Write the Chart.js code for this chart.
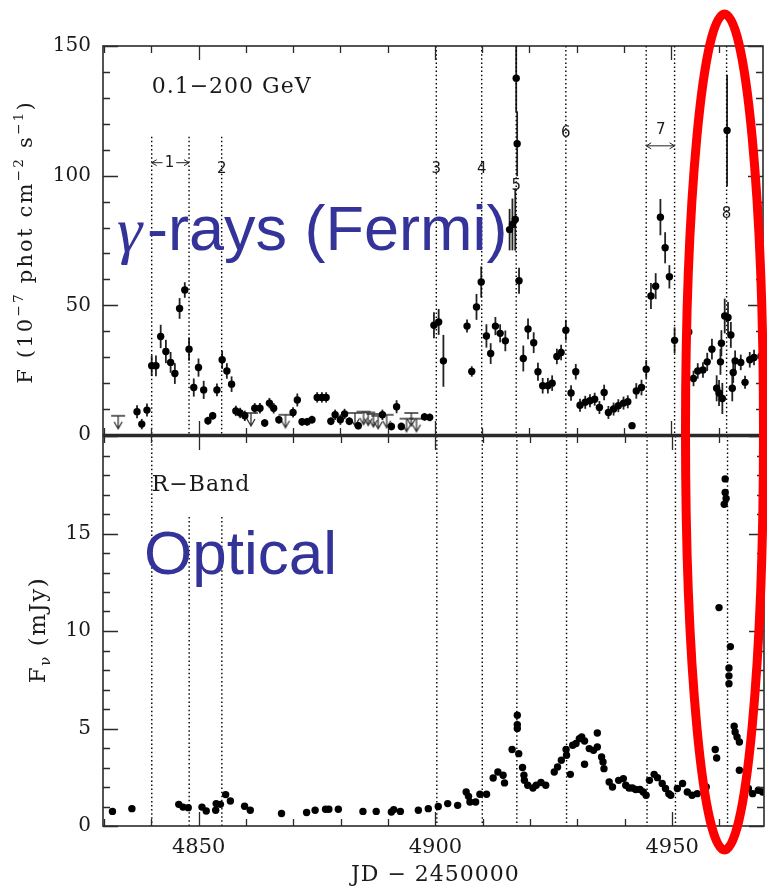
<!DOCTYPE html>
<html>
<head>
<meta charset="utf-8">
<script src="https://cdn.jsdelivr.net/npm/chart.js@4.4.0/dist/chart.umd.min.js"></script>
<style>
  html, body { margin: 0; padding: 0; background: #fff; overflow: hidden; }
  #wrap { position: relative; width: 767px; height: 886px; overflow: hidden; }
  canvas { position: absolute; left: 0; }
  #gamma { top: 0; }
  #optical { top: 430px; }
  #marks { top: 0; pointer-events: none; }
</style>
</head>
<body>
<div id="wrap">
  <canvas id="gamma" width="768" height="440"></canvas>
  <canvas id="optical" width="768" height="456"></canvas>
  <canvas id="marks" width="767" height="886"></canvas>
</div>
<script>
// ---- data (JD - 2450000) ----
const xTickLabels = [4850, 4900, 4950];
const gammaTicks = [0, 50, 100, 150];
const opticalTicks = [0, 5, 10, 15];

// boundaries of the flaring periods (dotted lines)
const eventDays = [4840.1, 4848.0, 4854.9, 4900.3, 4909.9, 4917.2, 4927.7, 4944.7, 4950.7, 4961.7];

// Fermi 0.1-200 GeV flux, 1e-7 phot cm-2 s-1
const gammaDays = [
  4837.0, 4838.0, 4839.1, 4840.1, 4841.0, 4842.0, 4843.1, 4844.1, 4845.0, 4846.0,
  4847.1, 4848.0, 4849.0, 4850.0, 4851.1, 4852.0, 4853.0, 4853.9, 4855.0, 4856.0,
  4857.0, 4857.9, 4858.8, 4859.8, 4861.9, 4863.0, 4864.0, 4865.0, 4865.9, 4867.0,
  4870.0, 4870.9, 4871.9, 4873.0, 4874.0, 4875.1, 4876.1, 4877.0, 4878.0, 4878.9,
  4880.0, 4880.9, 4881.9, 4883.8, 4888.9, 4890.8, 4891.9, 4892.9, 4897.8, 4898.9,
  4899.8, 4900.8, 4901.8, 4906.8, 4907.8, 4908.8, 4909.8, 4910.9, 4911.8, 4912.8,
  4913.8, 4914.9, 4915.8, 4916.4, 4917.0, 4917.2, 4917.4, 4917.8, 4918.7, 4919.7,
  4920.9, 4921.8, 4922.8, 4923.9, 4924.8, 4925.8, 4926.7, 4927.7, 4928.8, 4929.8,
  4930.7, 4931.8, 4932.8, 4933.8, 4934.8, 4935.8, 4936.7, 4937.8, 4938.8, 4939.9,
  4940.8, 4941.7, 4942.6, 4943.7, 4944.7, 4945.7, 4946.7, 4947.7, 4948.7, 4949.6,
  4950.7, 4953.7, 4954.7, 4955.6, 4956.7, 4957.6, 4958.6, 4959.6, 4960.1, 4960.4,
  4960.6, 4960.8, 4961.3, 4961.8, 4962.0, 4962.6, 4962.9, 4963.1, 4963.5, 4964.7,
  4965.6, 4966.6, 4967.5, 4969.0
];
const gammaFlux = [
  9.0, 4.2, 9.6, 26.7, 26.7, 38.0, 32.2, 28.0, 23.7, 48.8,
  55.9, 33.1, 18.3, 26.0, 17.4, 5.5, 7.4, 17.4, 29.0, 24.7,
  19.6, 9.3, 8.5, 7.4, 10.3, 10.3, 4.6, 12.3, 10.3, 5.9,
  8.7, 13.5, 5.1, 5.1, 5.9, 14.5, 14.5, 14.5, 5.3, 7.8,
  5.9, 8.1, 5.3, 3.6, 7.8, 3.3, 10.9, 3.3, 7.0, 6.8,
  42.3, 43.6, 28.6, 42.0, 24.5, 49.4, 59.0, 38.2, 31.4, 42.0,
  39.2, 36.3, 79.2, 81.2, 83.1, 137.6, 112.3, 59.5, 29.5, 40.9,
  35.6, 24.4, 19.0, 19.0, 20.0, 30.3, 31.8, 40.4, 16.2, 24.4,
  11.5, 12.6, 13.2, 13.8, 10.6, 16.4, 8.7, 10.0, 11.3, 12.3,
  12.8, 3.6, 17.0, 18.3, 25.4, 53.6, 57.4, 84.0, 72.2, 61.0,
  36.5, 39.7, 21.8, 24.7, 25.1, 28.2, 33.1, 18.0, 16.2, 28.2,
  35.4, 14.1, 45.9, 117.4, 45.3, 38.6, 18.0, 24.1, 28.6, 28.0,
  20.3, 29.0, 29.9, 30.5
];
const gammaErr = [
  2.5, 2.0, 2.5, 4.0, 4.0, 4.5, 4.5, 4.0, 4.0, 4.0,
  3.0, 4.5, 3.5, 3.5, 3.5, 1.5, 1.5, 2.5, 3.5, 3.0,
  3.0, 2.0, 2.0, 2.0, 2.0, 2.0, 1.5, 2.0, 2.0, 1.5,
  2.0, 2.5, 1.5, 1.5, 1.5, 2.0, 2.0, 2.0, 1.5, 2.0,
  2.0, 2.0, 1.5, 1.5, 2.0, 1.5, 2.5, 1.5, 1.5, 1.5,
  5.0, 5.0, 10.0, 2.5, 2.0, 5.0, 6.0, 4.5, 4.0, 3.5,
  3.5, 4.0, 8.0, 10.0, 12.0, 13.0, 12.5, 5.0, 5.0, 4.0,
  4.0, 3.5, 3.0, 3.0, 3.0, 3.0, 3.0, 4.0, 3.0, 3.0,
  2.5, 2.5, 2.5, 2.5, 2.5, 3.0, 2.5, 2.5, 2.5, 2.5,
  2.5, 1.0, 3.0, 3.0, 3.5, 5.0, 5.0, 7.0, 6.0, 4.5,
  5.0, 6.0, 3.0, 3.0, 3.0, 3.5, 4.0, 5.0, 5.0, 5.0,
  5.0, 6.0, 6.7, 21.5, 6.0, 5.0, 5.0, 4.0, 4.0, 3.0,
  2.5, 3.0, 3.0, 3.0
];

// gamma-ray upper limits
const ulDays = [4833.0, 4861.1, 4868.4, 4883.1, 4884.9, 4885.9, 4887.0, 4888.0, 4889.8, 4894.0, 4895.0, 4896.1];
const ulFlux = [7.4, 8.5, 7.8, 8.5, 9.0, 8.7, 8.1, 7.4, 7.8, 6.3, 8.5, 6.3];

// R-band flux density, mJy
const optDays = [
  4831.8, 4835.9, 4845.8, 4846.7, 4847.8, 4850.7, 4851.6, 4853.6, 4853.7, 4854.6,
  4855.7, 4856.7, 4859.7, 4860.9, 4867.5, 4872.8, 4874.6, 4876.8, 4877.5, 4879.5,
  4884.7, 4887.5, 4890.7, 4891.2, 4892.6, 4896.4, 4898.5, 4900.6, 4902.6, 4904.7,
  4906.5, 4907.0, 4907.3, 4908.5, 4909.4, 4910.8, 4912.2, 4913.2, 4914.3, 4914.6,
  4916.2, 4917.3, 4917.3, 4917.3, 4917.6, 4918.4, 4918.7, 4918.8, 4919.5, 4920.6,
  4921.3, 4922.3, 4923.3, 4925.1, 4925.8, 4926.6, 4927.6, 4927.7, 4928.5, 4929.0,
  4929.7, 4930.4, 4930.9, 4931.5, 4931.5, 4932.5, 4933.4, 4934.2, 4934.2, 4935.1,
  4935.4, 4935.6, 4936.7, 4937.4, 4938.7, 4939.7, 4940.2, 4940.9, 4941.6, 4942.3,
  4943.2, 4943.9, 4944.5, 4945.2, 4946.2, 4946.9, 4947.9, 4948.6, 4949.3, 4949.7,
  4951.1, 4952.2, 4953.2, 4954.2, 4955.3, 4957.2, 4959.1, 4959.4, 4959.9, 4961.0,
  4961.2, 4961.2, 4961.4, 4962.0, 4962.0, 4962.0, 4962.3, 4963.1, 4963.3, 4963.7,
  4964.2, 4964.2, 4966.1, 4967.0, 4968.2, 4969.1
];
const optFlux = [
  0.75, 0.89, 1.11, 0.97, 0.94, 0.97, 0.77, 0.81, 1.15, 1.11,
  1.61, 1.28, 1.01, 0.81, 0.64, 0.69, 0.81, 0.86, 0.86, 0.86,
  0.75, 0.75, 0.72, 0.84, 0.75, 0.81, 0.89, 1.00, 1.15, 1.06,
  1.74, 1.52, 1.23, 1.23, 1.63, 1.63, 2.46, 2.77, 2.60, 2.21,
  3.92, 5.68, 5.20, 5.00, 3.71, 3.00, 2.60, 2.34, 2.09, 1.95,
  2.09, 2.23, 2.09, 2.77, 3.03, 3.37, 3.92, 3.63, 2.65, 4.14,
  4.23, 4.48, 4.57, 4.36, 3.17, 3.97, 3.88, 4.05, 4.77, 3.54,
  3.28, 2.94, 2.26, 2.00, 2.34, 2.43, 2.09, 1.95, 1.95, 1.87,
  1.87, 1.74, 1.58, 2.34, 2.65, 2.48, 2.18, 1.92, 1.66, 1.58,
  1.92, 2.18, 1.74, 1.58, 1.66, 2.00, 3.92, 3.49, 11.2, 16.5,
  17.8, 17.1, 16.8, 8.1, 7.7, 7.3, 9.2, 5.12, 4.82, 4.57,
  4.31, 2.86, 1.92, 1.66, 1.83, 1.74
];

const xMin = 4829.8, xMax = 4969.4;

// upper-limit symbol: bar at the value, arrow pointing down
function ulSymbol() {
  const c = document.createElement('canvas');
  c.width = 16; c.height = 30;
  const g = c.getContext('2d');
  g.strokeStyle = '#333';
  g.lineWidth = 1.3;
  g.beginPath();
  g.moveTo(1, 15); g.lineTo(15, 15);
  g.moveTo(8, 15); g.lineTo(8, 28);
  g.moveTo(4, 21); g.lineTo(8, 28); g.lineTo(12, 21);
  g.stroke();
  return c;
}

function eventLines(tops) {
  return eventDays.map((d, i) => ({
    data: [{x: d, y: tops[i]}, {x: d, y: 0}],
    showLine: true,
    pointRadius: 0,
    borderColor: '#000',
    borderWidth: 1.4,
    borderDash: [1.5, 2.6],
    order: 3
  }));
}

function drawRuns(ctx, runs, cx, cy, size, family, rotate, spacing) {
  ctx.save();
  ctx.translate(cx, cy);
  if (rotate) ctx.rotate(-Math.PI / 2);
  ctx.letterSpacing = (spacing || 0) + 'px';
  let total = 0;
  runs.forEach(r => {
    ctx.font = `${r.sup || r.sub ? size * 0.65 : size}px ${family}`;
    r.w = ctx.measureText(r.t).width;
    total += r.w;
  });
  let xx = -total / 2;
  ctx.textAlign = 'left';
  ctx.textBaseline = 'alphabetic';
  runs.forEach(r => {
    ctx.font = `${r.sup || r.sub ? size * 0.65 : size}px ${family}`;
    const dy = r.sup ? -size * 0.42 : r.sub ? size * 0.22 : 0;
    ctx.fillText(r.t, xx, size * 0.36 + dy);
    xx += r.w;
  });
  ctx.restore();
}

function arrowHead(ctx, x, y, dir) {
  ctx.moveTo(x + dir * 5, y - 3);
  ctx.lineTo(x, y);
  ctx.lineTo(x + dir * 5, y + 3);
}

const panelPlugin = {
  id: 'panel',
  beforeDatasetsDraw(chart) {
    const {ctx, chartArea: a, scales: {x, y}} = chart;
    ctx.save();
    ctx.beginPath();
    ctx.rect(a.left, a.top, a.right - a.left, a.bottom - a.top);
    ctx.clip();
    ctx.strokeStyle = '#222';
    ctx.lineWidth = 1.8;
    chart.data.datasets.forEach(ds => {
      if (!ds.errors) return;
      ds.data.forEach((p, i) => {
        const e = ds.errors[i];
        if (!e) return;
        const px = x.getPixelForValue(p.x);
        ctx.beginPath();
        ctx.moveTo(px, y.getPixelForValue(p.y - e));
        ctx.lineTo(px, y.getPixelForValue(p.y + e));
        ctx.stroke();
      });
    });
    ctx.restore();
  },
  afterDraw(chart, args, opts) {
    const {ctx, chartArea: a, scales: {x, y}} = chart;
    ctx.save();
    // frame
    ctx.strokeStyle = '#2a2a2a';
    ctx.lineWidth = 1.6;
    ctx.strokeRect(a.left, a.top, a.right - a.left, a.bottom - a.top);
    ctx.lineWidth = 2.4;
    ctx.beginPath();
    const sepY = opts.sepAtBottom ? a.bottom : a.top;
    ctx.moveTo(a.left, sepY); ctx.lineTo(a.right, sepY);
    ctx.stroke();
    // inward ticks
    ctx.lineWidth = 1.3;
    ctx.beginPath();
    for (let v = Math.ceil(xMin / 10) * 10; v <= xMax; v += 10) {
      const px = Math.round(x.getPixelForValue(v)) + 0.5;
      const len = v % 50 === 0 ? 14 : 7;
      ctx.moveTo(px, a.bottom); ctx.lineTo(px, a.bottom - len);
      ctx.moveTo(px, a.top); ctx.lineTo(px, a.top + len);
    }
    for (let v = y.min; v <= y.max + 1e-9; v += opts.yMinor) {
      const py = Math.round(y.getPixelForValue(v)) + 0.5;
      const len = Math.abs(v / opts.yMajor - Math.round(v / opts.yMajor)) < 1e-6 ? 15 : 7;
      ctx.moveTo(a.left, py); ctx.lineTo(a.left + len, py);
      ctx.moveTo(a.right, py); ctx.lineTo(a.right - len, py);
    }
    ctx.stroke();
    // small arrows
    ctx.strokeStyle = '#222';
    ctx.lineWidth = 1;
    (opts.arrows || []).forEach(ar => {
      const x1 = x.getPixelForValue(ar.x1), x2 = x.getPixelForValue(ar.x2), py = y.getPixelForValue(ar.y);
      ctx.beginPath();
      ctx.moveTo(x1, py); ctx.lineTo(x2, py);
      if (ar.head === 'start' || ar.head === 'both') arrowHead(ctx, x1, py, 1);
      if (ar.head === 'end' || ar.head === 'both') arrowHead(ctx, x2, py, -1);
      ctx.stroke();
    });
    // labels
    ctx.fillStyle = '#1a1a1a';
    ctx.textBaseline = 'middle';
    (opts.labels || []).forEach(l => {
      ctx.font = l.font || '15px "DejaVu Sans"';
      ctx.textAlign = l.align || 'center';
      ctx.letterSpacing = (l.spacing || 0) + 'px';
      ctx.fillText(l.text, x.getPixelForValue(l.x), y.getPixelForValue(l.y));
    });
    ctx.letterSpacing = '0px';
    // axis titles
    const t = opts.yTitle;
    drawRuns(ctx, t.runs, t.cx, t.cy, t.size, '"DejaVu Serif"', true, t.spacing);
    if (opts.xTitle) {
      const xt = opts.xTitle;
      drawRuns(ctx, xt.runs, x.getPixelForValue(4900), xt.cy, xt.size, '"DejaVu Serif"', false, xt.spacing);
    }
    ctx.restore();
  }
};

function baseOptions(yMax, ticks, panel, padding, xDisplay) {
  return {
    responsive: false,
    devicePixelRatio: 1,
    animation: false,
    layout: {padding: padding},
    plugins: {legend: {display: false}, tooltip: {enabled: false}, panel: panel},
    scales: {
      x: {
        type: 'linear',
        min: xMin,
        max: xMax,
        display: xDisplay,
        grid: {display: false, drawTicks: false},
        border: {display: false},
        afterBuildTicks: s => { s.ticks = xTickLabels.map(v => ({value: v})); },
        afterFit: s => {
          s.height = xDisplay ? 60 : 0;
          s.paddingLeft = 0; s.paddingRight = 0;
        },
        ticks: {
          autoSkip: false,
          maxRotation: 0,
          padding: 9,
          color: '#1a1a1a',
          font: {family: '"DejaVu Serif"', size: 21},
          callback: v => String(v)
        }
      },
      y: {
        min: 0,
        max: yMax,
        grid: {display: false, drawTicks: false},
        border: {display: false},
        afterBuildTicks: s => { s.ticks = ticks.map(v => ({value: v})); },
        afterFit: s => {
          s.width = 103;
          s.paddingTop = 0; s.paddingBottom = 0;
        },
        ticks: {
          autoSkip: false,
          padding: 12,
          color: '#1a1a1a',
          font: {family: '"DejaVu Serif"', size: 20},
          callback: v => String(v)
        }
      }
    }
  };
}

const numFont = '15px "DejaVu Sans"';

new Chart(document.getElementById('gamma'), {
  type: 'scatter',
  data: {
    datasets: [
      {
        data: gammaDays.map((d, i) => ({x: d, y: gammaFlux[i]})),
        errors: gammaErr,
        pointRadius: 3.7,
        backgroundColor: '#000',
        borderWidth: 0,
        order: 0
      },
      {
        data: ulDays.map((d, i) => ({x: d, y: ulFlux[i]})),
        pointStyle: ulSymbol(),
        order: 1
      },
      ...eventLines([115, 115, 115, 150, 150, 150, 150, 150, 150, 150])
    ]
  },
  options: baseOptions(150, gammaTicks, {
    sepAtBottom: true,
    yMinor: 10,
    yMajor: 50,
    yTitle: {
      cx: 24, cy: 242, size: 21, spacing: 2.2,
      runs: [{t: 'F (10'}, {t: '−7', sup: true}, {t: ' phot cm'}, {t: '−2', sup: true}, {t: ' s'}, {t: '−1', sup: true}, {t: ')'}]
    },
    arrows: [
      {x1: 4840.1, x2: 4842.4, y: 105, head: 'start'},
      {x1: 4845.3, x2: 4848.0, y: 105, head: 'end'},
      {x1: 4944.7, x2: 4950.7, y: 111.5, head: 'both'}
    ],
    labels: [
      {text: '0.1−200 GeV', x: 4840.1, y: 134.2, align: 'left', font: '22px "DejaVu Serif"', spacing: 1},
      {text: '1', x: 4843.85, y: 105, font: numFont},
      {text: '2', x: 4854.9, y: 102.7, font: numFont},
      {text: '3', x: 4900.3, y: 102.7, font: numFont},
      {text: '4', x: 4909.9, y: 102.7, font: numFont},
      {text: '5', x: 4917.2, y: 95.8, font: numFont},
      {text: '6', x: 4927.7, y: 116.5, font: numFont},
      {text: '7', x: 4947.8, y: 117.5, font: numFont},
      {text: '8', x: 4961.7, y: 85, font: numFont}
    ]
  }, {top: 46, right: 1, bottom: 4, left: 0}, false),
  plugins: [panelPlugin]
});

new Chart(document.getElementById('optical'), {
  type: 'scatter',
  data: {
    datasets: [
      {
        data: optDays.map((d, i) => ({x: d, y: optFlux[i]})),
        pointRadius: 3.7,
        backgroundColor: '#000',
        borderWidth: 0,
        order: 0
      },
      ...eventLines([20, 15.85, 15.85, 20, 20, 20, 20, 20, 20, 20])
    ]
  },
  options: baseOptions(20, opticalTicks, {
    sepAtBottom: false,
    yMinor: 1,
    yMajor: 5,
    yTitle: {
      cx: 37, cy: 200, size: 23, spacing: 1.5,
      runs: [{t: 'F'}, {t: 'ν', sub: true}, {t: ' (mJy)'}]
    },
    xTitle: {cy: 443, size: 22, spacing: 1, runs: [{t: 'JD − 2450000'}]},
    labels: [
      {text: 'R−Band', x: 4840.1, y: 17.48, align: 'left', font: '22px "DejaVu Serif"', spacing: 1}
    ]
  }, {top: 6, right: 1, bottom: 0, left: 0}, true),
  plugins: [panelPlugin]
});

// presentation overlay: labels and the highlight ring
const m = document.getElementById('marks').getContext('2d');
m.fillStyle = '#333399';
m.textBaseline = 'alphabetic';
m.font = 'italic 64px "Liberation Serif"';
m.fillText('γ', 117, 251);
m.font = '63px "Liberation Sans"';
m.fillText('-rays (Fermi)', 147, 250);
m.font = '62px "Liberation Sans"';
m.fillText('Optical', 144, 574);
m.strokeStyle = '#ff0000';
m.lineWidth = 9;
m.beginPath();
m.ellipse(724.5, 432, 39, 418, 0, 0, Math.PI * 2);
m.stroke();
</script>
</body>
</html>
